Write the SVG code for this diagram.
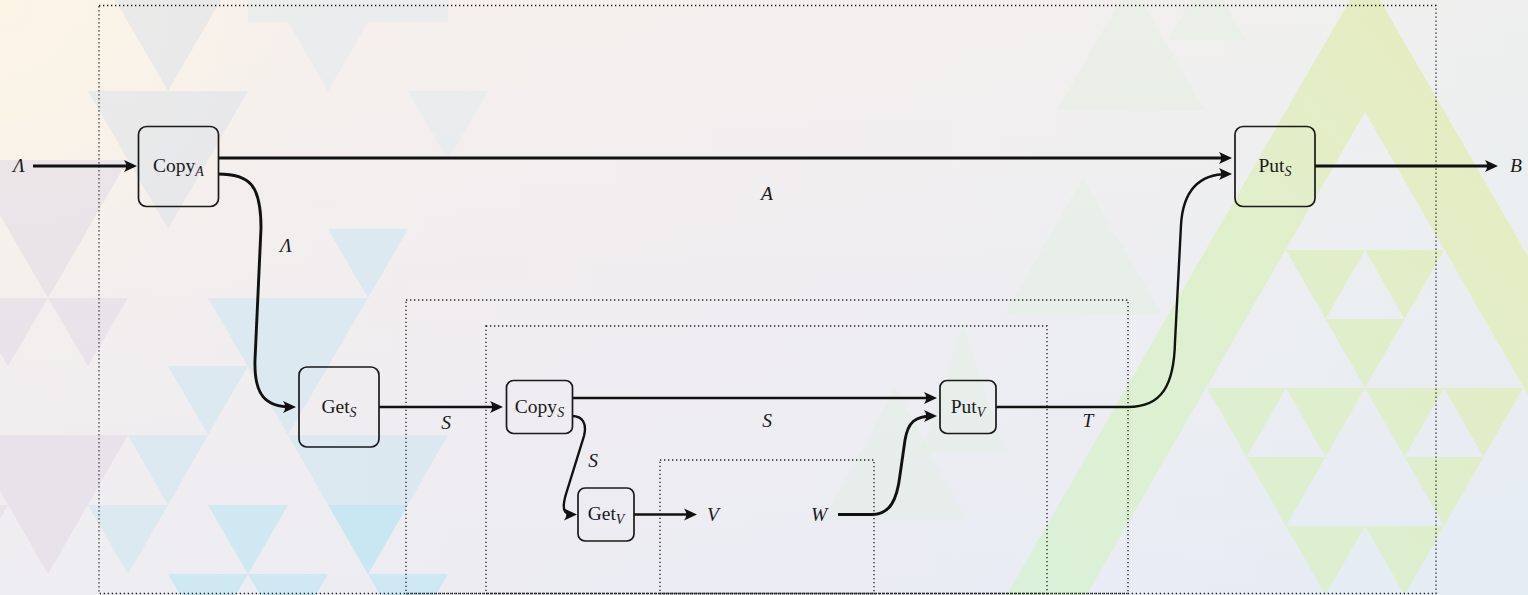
<svg xmlns="http://www.w3.org/2000/svg" width="1528" height="595" viewBox="0 0 1528 595">
  <defs>
    <linearGradient id="bgH" x1="0" y1="0" x2="1" y2="0">
      <stop offset="0" stop-color="#f8f2ec"/>
      <stop offset="0.3" stop-color="#f4eff0"/>
      <stop offset="0.55" stop-color="#f0eff3"/>
      <stop offset="0.78" stop-color="#eaf0f3"/>
      <stop offset="1" stop-color="#e3f0f3"/>
    </linearGradient>
    <linearGradient id="bgV" x1="0" y1="0" x2="0" y2="1">
      <stop offset="0" stop-color="#f7efea" stop-opacity="0.55"/>
      <stop offset="1" stop-color="#e6e9f5" stop-opacity="0.55"/>
    </linearGradient>
    <radialGradient id="cream" cx="0" cy="0" r="320" gradientUnits="userSpaceOnUse">
      <stop offset="0" stop-color="#fcf5e6"/>
      <stop offset="1" stop-color="#fcf5e6" stop-opacity="0"/>
    </radialGradient>
    <linearGradient id="leaf" x1="1000" y1="595" x2="1528" y2="200" gradientUnits="userSpaceOnUse">
      <stop offset="0" stop-color="#d8f1d6"/>
      <stop offset="0.5" stop-color="#ddf0cb"/>
      <stop offset="1" stop-color="#e5ecbd"/>
    </linearGradient>
    <marker id="ah" markerUnits="userSpaceOnUse" markerWidth="20" markerHeight="20" refX="0" refY="0" orient="auto" overflow="visible">
      <path d="M4,0 L-9,-6 Q-4.5,0 -9,6 Z" fill="#111"/>
    </marker>
    <style>
      .box { fill: none; stroke: #1a1a1a; stroke-width: 1.7; }
      .frame { fill: none; stroke: #1a1a1a; stroke-width: 1.3; stroke-dasharray: 1.3 2.7; }
      .wire { fill: none; stroke: #111; stroke-width: 2.9; }
      .wire.thin { stroke-width: 2.4; }
      .arr { marker-end: url(#ah); }
      .nm { font-family: "Liberation Serif", "DejaVu Serif", serif; font-size: 19.5px; fill: #1a1a1a; text-anchor: middle; }
      .sub { font-style: italic; font-size: 14px; }
      .lbl { font-family: "Liberation Serif", "DejaVu Serif", serif; font-style: italic; font-size: 19.5px; fill: #1a1a1a; text-anchor: middle; }
      .gb { fill: #dde2ea; opacity: 0.55; }
      .mv { fill: #e3dce6; opacity: 0.6; }
      .bl { fill: #cfe6f0; opacity: 0.6; }
      .cy { fill: #bfe7f2; opacity: 0.65; }
      .pg { fill: #dfe9ee; opacity: 0.5; }
      .lf { fill: url(#leaf); opacity: 0.9; }
      .fg { fill: #dcefd8; opacity: 0.28; }
    </style>
  </defs>

  <!-- backdrop: soft gradient with a triangle mosaic -->
  <g id="backdrop">
    <rect x="0" y="0" width="1528" height="595" fill="url(#bgH)"/>
    <rect x="0" y="0" width="1528" height="595" fill="url(#bgV)"/>
    <rect x="0" y="0" width="1528" height="595" fill="url(#cream)"/>

    <!-- left mosaic -->
    <polygon class="gb" points="88,-47 248,-47 168,91"/>
    <polygon class="gb" points="88,91 248,91 168,229"/>
    <polygon class="pg" points="288,22 368,22 328,91"/>
    <polygon class="pg" points="248,-47 448,-47 448,22 248,22"/>
    <polygon class="pg" points="408,91 488,91 448,160"/>
    <polygon class="mv" points="-32,160 128,160 48,298"/>
    <polygon class="mv" points="-32,298 48,298 8,366"/>
    <polygon class="mv" points="48,298 128,298 88,366"/>
    <polygon class="mv" points="-32,435 128,435 48,574"/>
    <polygon class="mv" points="-72,505 8,505 -32,574"/>
    <polygon class="bl" points="328,229 408,229 368,298"/>
    <polygon class="bl" points="208,298 368,298 288,435"/>
    <polygon class="bl" points="168,366 248,366 208,435"/>
    <polygon class="bl" points="128,435 208,435 168,505"/>
    <polygon class="bl" points="288,435 448,435 368,574"/>
    <polygon class="bl" points="88,505 168,505 128,574"/>
    <polygon class="cy" points="208,505 288,505 248,574"/>
    <polygon class="cy" points="328,505 408,505 368,574"/>
    <polygon class="cy" points="248,574 328,574 288,643"/>
    <polygon class="cy" points="168,574 248,574 208,643"/>
    <polygon class="cy" points="368,574 448,574 408,643"/>

    <!-- faint leaves in the middle -->
    <polygon class="fg" points="1057,110 1205,110 1131,-18"/>
    <polygon class="fg" points="1168,40 1246,40 1207,-28"/>
    <polygon class="fg" points="1004,315 1162,315 1083,178"/>
    <polygon class="fg" points="824,520 966,520 895,387"/>
    <polygon class="fg" points="921,452 1005,452 963,326"/>

    <!-- large leaf triangle on the right -->
    <path class="lf" fill-rule="evenodd" d="M1365,-26 L1769,674 L961,674 Z M1365,112 L1689,674 L1041,674 Z"/>
    <g class="lf">
      <polygon points="1286,250 1365,250 1325.5,319"/>
      <polygon points="1365,250 1444,250 1404.5,319"/>
      <polygon points="1325.5,319 1404.5,319 1365,388"/>
      <polygon points="1207,388 1286,388 1246.5,457"/>
      <polygon points="1286,388 1365,388 1325.5,457"/>
      <polygon points="1365,388 1444,388 1404.5,457"/>
      <polygon points="1444,388 1523,388 1483.5,457"/>
      <polygon points="1246.5,457 1325.5,457 1286,526"/>
      <polygon points="1404.5,457 1483.5,457 1444,526"/>
      <polygon points="1286,526 1365,526 1325.5,595"/>
      <polygon points="1365,526 1444,526 1404.5,595"/>
    </g>
  </g>

  <!-- dotted grouping frames -->
  <g id="frames">
    <rect class="frame" x="99" y="5.5" width="1337" height="588"/>
    <rect class="frame" x="406" y="300" width="722" height="293.5"/>
    <rect class="frame" x="486" y="326" width="561" height="267.5"/>
    <rect class="frame" x="660" y="460" width="214" height="133.5"/>
  </g>

  <!-- connectors -->
  <g id="connectors">
    <path class="wire arr" d="M33,166 L133,166"/>
    <path class="wire arr" d="M218,158 L1228,158"/>
    <path class="wire arr" d="M218,174 C250,174 261,185 261,228 L255,360 C254,395 265,407 292,407"/>
    <path class="wire thin arr" d="M379,407 L499,407"/>
    <path class="wire thin arr" d="M572,398 L933,398"/>
    <path class="wire thin arr" d="M572,416 C583,416 587,424 584,436 L566,494 C561,511 565,514.5 573,514.5"/>
    <path class="wire thin arr" d="M634,514.5 L693,514.5"/>
    <path class="wire arr" d="M838,514.5 L872,514.5 C890,514.5 897,500 900,475 L905,440 C908,422 915,416 933,416"/>
    <path class="wire thin arr" d="M996,407 L1128,407 C1162,407 1174,385 1175,342 L1181,225 C1183,190 1200,174 1228,174"/>
    <path class="wire arr" d="M1315,166 L1494,166"/>

    <text class="lbl" x="19" y="172">Λ</text>
    <text class="lbl" x="767" y="200">A</text>
    <text class="lbl" x="286" y="252">Λ</text>
    <text class="lbl" x="446" y="429">S</text>
    <text class="lbl" x="767" y="427">S</text>
    <text class="lbl" x="593" y="467">S</text>
    <text class="lbl" x="1088" y="427">T</text>
    <text class="lbl" x="713" y="521">V</text>
    <text class="lbl" x="819" y="521">W</text>
    <text class="lbl" x="1516" y="172">B</text>
  </g>

  <!-- nodes -->
  <g id="copyA">
    <rect class="box" x="138.5" y="126.5" width="80" height="80" rx="8"/>
    <text class="nm" x="178.5" y="172">Copy<tspan class="sub" dy="4">A</tspan></text>
  </g>
  <g id="putS">
    <rect class="box" x="1235" y="126.5" width="80" height="80" rx="8"/>
    <text class="nm" x="1275" y="172">Put<tspan class="sub" dy="4">S</tspan></text>
  </g>
  <g id="getS">
    <rect class="box" x="299" y="367" width="80" height="80" rx="8"/>
    <text class="nm" x="339" y="413">Get<tspan class="sub" dy="4">S</tspan></text>
  </g>
  <g id="copyS">
    <rect class="box" x="506.5" y="380.5" width="66" height="53" rx="7"/>
    <text class="nm" x="539.5" y="413">Copy<tspan class="sub" dy="4">S</tspan></text>
  </g>
  <g id="putV">
    <rect class="box" x="940" y="380.5" width="56" height="53" rx="7"/>
    <text class="nm" x="968" y="413">Put<tspan class="sub" dy="4">V</tspan></text>
  </g>
  <g id="getV">
    <rect class="box" x="578" y="488" width="56" height="53" rx="7"/>
    <text class="nm" x="606" y="520">Get<tspan class="sub" dy="4">V</tspan></text>
  </g>
</svg>
